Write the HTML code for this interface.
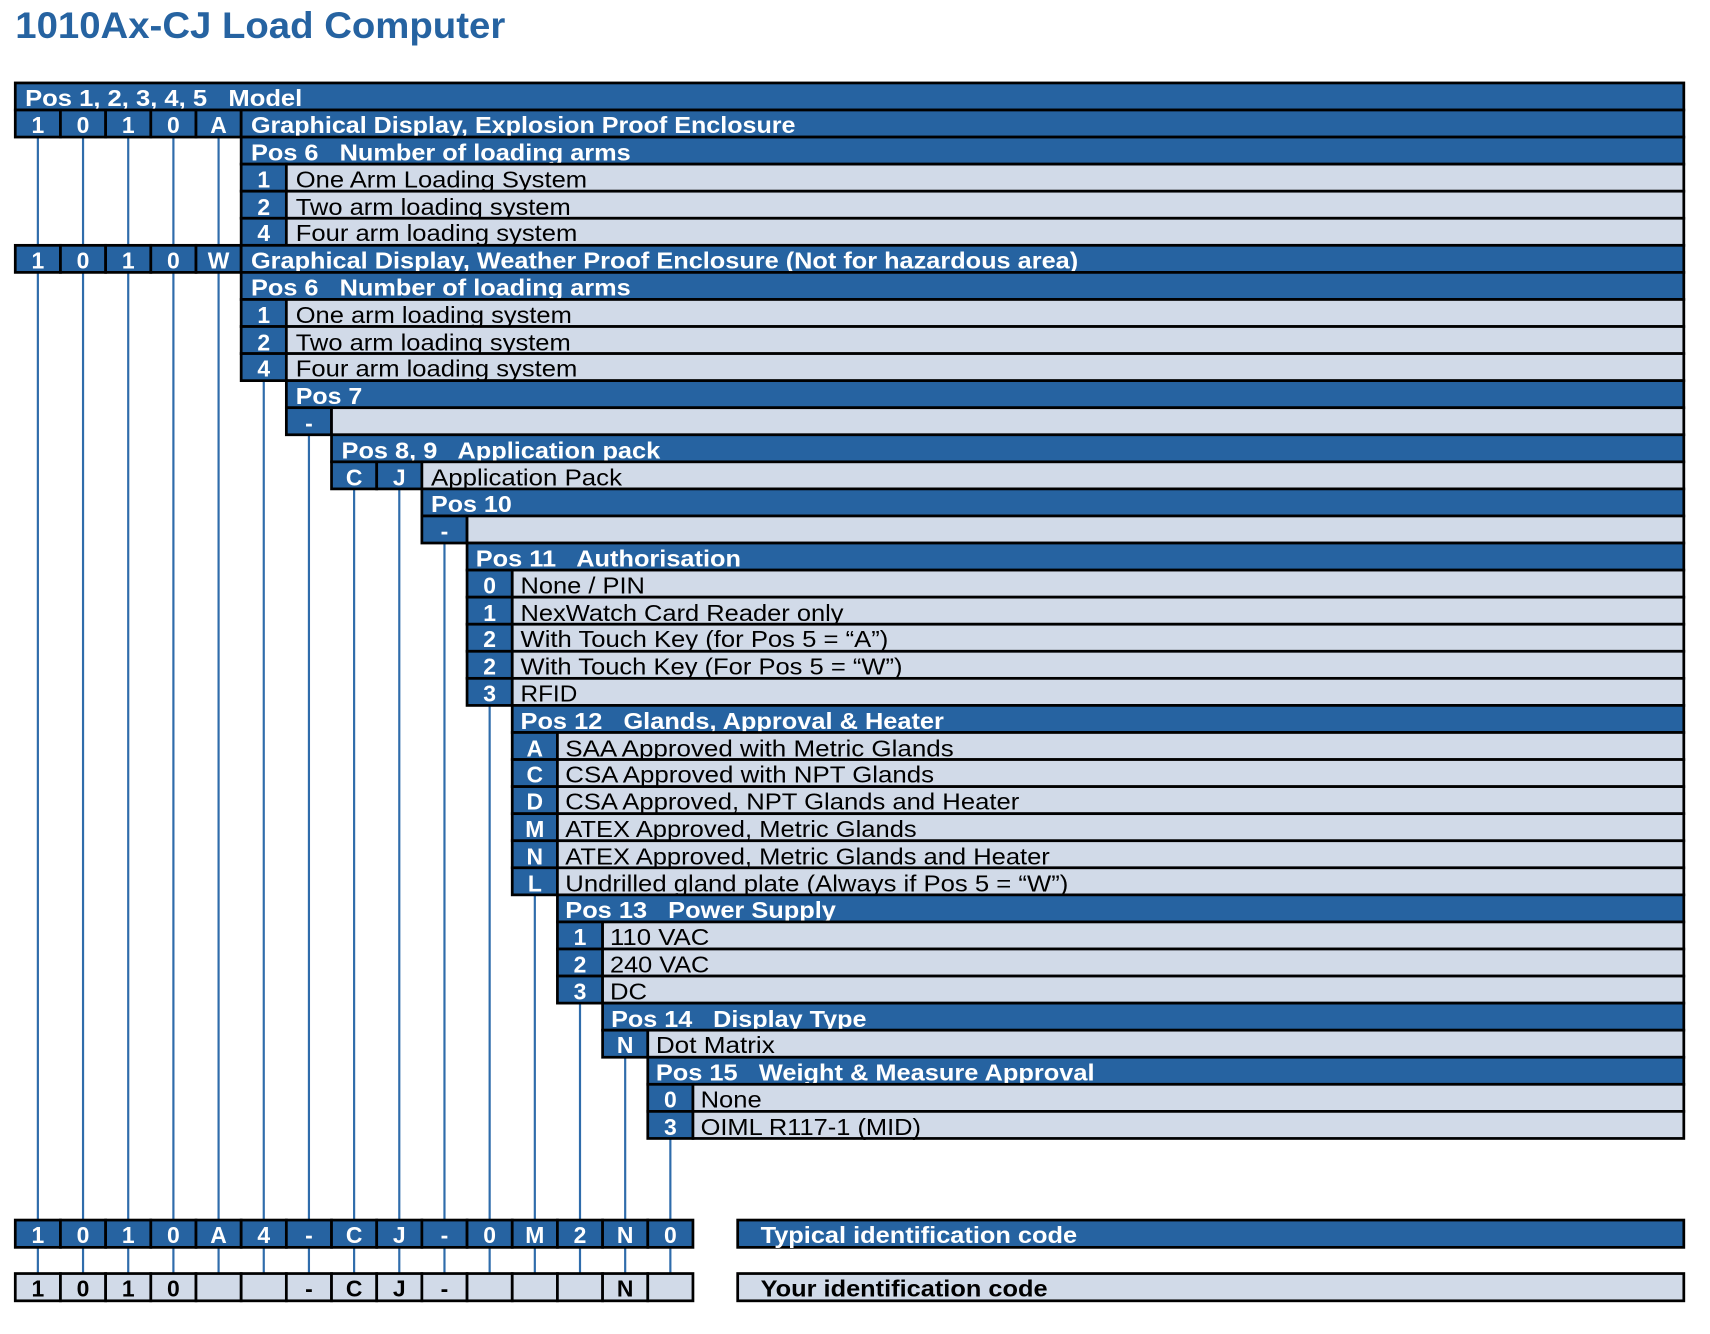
<!DOCTYPE html>
<html><head><meta charset="utf-8"><style>
html,body{margin:0;padding:0;background:#fff;width:1710px;height:1334px;overflow:hidden}
svg text{white-space:pre;font-family:"Liberation Sans",sans-serif}
.h{fill:#fff;font-weight:bold;font-size:21px}
.t{fill:#000;font-size:21px}
.c{fill:#fff;font-weight:bold;font-size:21px;text-anchor:middle}
.cb{fill:#000;font-weight:bold;font-size:21px;text-anchor:middle}
.B{fill:#2663a1;stroke:#000;stroke-width:2.5}
.L{fill:#d1dae8;stroke:#000;stroke-width:2.5}
.v{stroke:#2f6cab;stroke-width:2}
</style></head><body>
<svg width="1710" height="1334" viewBox="0 0 1567 1222.4" preserveAspectRatio="none" xmlns="http://www.w3.org/2000/svg">
<text x="14" y="35" font-size="34" font-weight="bold" fill="#2663a1" textLength="449" lengthAdjust="spacingAndGlyphs" style="font-family:'Liberation Sans',sans-serif">1010Ax-CJ Load Computer</text>
<g class="v">
<line x1="34.7" y1="110" x2="34.7" y2="1180"/>
<line x1="76.1" y1="110" x2="76.1" y2="1180"/>
<line x1="117.5" y1="110" x2="117.5" y2="1180"/>
<line x1="158.9" y1="110" x2="158.9" y2="1180"/>
<line x1="200.3" y1="110" x2="200.3" y2="1180"/>
<line x1="241.7" y1="340" x2="241.7" y2="1180"/>
<line x1="283.1" y1="390" x2="283.1" y2="1180"/>
<line x1="324.5" y1="440" x2="324.5" y2="1180"/>
<line x1="365.9" y1="440" x2="365.9" y2="1180"/>
<line x1="407.3" y1="490" x2="407.3" y2="1180"/>
<line x1="448.7" y1="640" x2="448.7" y2="1180"/>
<line x1="490.1" y1="810" x2="490.1" y2="1180"/>
<line x1="531.5" y1="910" x2="531.5" y2="1180"/>
<line x1="572.9" y1="960" x2="572.9" y2="1180"/>
<line x1="614.3" y1="1030" x2="614.3" y2="1180"/>
</g>

<rect class="B" x="14" y="76" width="1529" height="24.8"/>
<text class="h" x="23" y="97" textLength="254" lengthAdjust="spacingAndGlyphs">Pos 1, 2, 3, 4, 5   Model</text>
<rect class="B" x="14" y="100.8" width="41.4" height="24.8"/><rect class="B" x="55.4" y="100.8" width="41.4" height="24.8"/><rect class="B" x="96.8" y="100.8" width="41.4" height="24.8"/><rect class="B" x="138.2" y="100.8" width="41.4" height="24.8"/><rect class="B" x="179.6" y="100.8" width="41.4" height="24.8"/>
<rect class="B" x="221" y="100.8" width="1322" height="24.8"/>
<text class="c" x="34.7" y="122">1</text><text class="c" x="76.1" y="122">0</text><text class="c" x="117.5" y="122">1</text><text class="c" x="158.9" y="122">0</text><text class="c" x="200.3" y="122">A</text>
<text class="h" x="230" y="122" textLength="499" lengthAdjust="spacingAndGlyphs">Graphical Display, Explosion Proof Enclosure</text>
<rect class="B" x="221" y="125.6" width="1322" height="24.8"/>
<text class="h" x="230" y="147" textLength="348" lengthAdjust="spacingAndGlyphs">Pos 6   Number of loading arms</text>
<rect class="B" x="221" y="150.4" width="41.4" height="24.8"/><rect class="L" x="262.4" y="150.4" width="1280.6" height="24.8"/>
<text class="c" x="241.7" y="172">1</text><text class="t" x="271" y="172" textLength="267" lengthAdjust="spacingAndGlyphs">One Arm Loading System</text>
<rect class="B" x="221" y="175.2" width="41.4" height="24.8"/><rect class="L" x="262.4" y="175.2" width="1280.6" height="24.8"/>
<text class="c" x="241.7" y="197">2</text><text class="t" x="271" y="197" textLength="252" lengthAdjust="spacingAndGlyphs">Two arm loading system</text>
<rect class="B" x="221" y="200" width="41.4" height="24.8"/><rect class="L" x="262.4" y="200" width="1280.6" height="24.8"/>
<text class="c" x="241.7" y="221">4</text><text class="t" x="271" y="221" textLength="258" lengthAdjust="spacingAndGlyphs">Four arm loading system</text>
<rect class="B" x="14" y="224.8" width="41.4" height="24.8"/><rect class="B" x="55.4" y="224.8" width="41.4" height="24.8"/><rect class="B" x="96.8" y="224.8" width="41.4" height="24.8"/><rect class="B" x="138.2" y="224.8" width="41.4" height="24.8"/><rect class="B" x="179.6" y="224.8" width="41.4" height="24.8"/>
<rect class="B" x="221" y="224.8" width="1322" height="24.8"/>
<text class="c" x="34.7" y="246">1</text><text class="c" x="76.1" y="246">0</text><text class="c" x="117.5" y="246">1</text><text class="c" x="158.9" y="246">0</text><text class="c" x="200.3" y="246">W</text>
<text class="h" x="230" y="246" textLength="758" lengthAdjust="spacingAndGlyphs">Graphical Display, Weather Proof Enclosure (Not for hazardous area)</text>
<rect class="B" x="221" y="249.6" width="1322" height="24.8"/>
<text class="h" x="230" y="271" textLength="348" lengthAdjust="spacingAndGlyphs">Pos 6   Number of loading arms</text>
<rect class="B" x="221" y="274.4" width="41.4" height="24.8"/><rect class="L" x="262.4" y="274.4" width="1280.6" height="24.8"/>
<text class="c" x="241.7" y="296">1</text><text class="t" x="271" y="296" textLength="253" lengthAdjust="spacingAndGlyphs">One arm loading system</text>
<rect class="B" x="221" y="299.2" width="41.4" height="24.8"/><rect class="L" x="262.4" y="299.2" width="1280.6" height="24.8"/>
<text class="c" x="241.7" y="321">2</text><text class="t" x="271" y="321" textLength="252" lengthAdjust="spacingAndGlyphs">Two arm loading system</text>
<rect class="B" x="221" y="324" width="41.4" height="24.8"/><rect class="L" x="262.4" y="324" width="1280.6" height="24.8"/>
<text class="c" x="241.7" y="345">4</text><text class="t" x="271" y="345" textLength="258" lengthAdjust="spacingAndGlyphs">Four arm loading system</text>
<rect class="B" x="262.4" y="348.8" width="1280.6" height="24.8"/>
<text class="h" x="271" y="370" textLength="61" lengthAdjust="spacingAndGlyphs">Pos 7</text>
<rect class="B" x="262.4" y="373.6" width="41.4" height="24.8"/><rect class="L" x="303.8" y="373.6" width="1239.2" height="24.8"/>
<text class="c" x="283.1" y="395">-</text>
<rect class="B" x="303.8" y="398.4" width="1239.2" height="24.8"/>
<text class="h" x="313" y="420" textLength="292" lengthAdjust="spacingAndGlyphs">Pos 8, 9   Application pack</text>
<rect class="B" x="303.8" y="423.2" width="41.4" height="24.8"/><rect class="B" x="345.2" y="423.2" width="41.4" height="24.8"/><rect class="L" x="386.6" y="423.2" width="1156.4" height="24.8"/>
<text class="c" x="324.5" y="445">C</text><text class="c" x="365.9" y="445">J</text>
<text class="t" x="395" y="445" textLength="175" lengthAdjust="spacingAndGlyphs">Application Pack</text>
<rect class="B" x="386.6" y="448" width="1156.4" height="24.8"/>
<text class="h" x="395" y="469" textLength="74" lengthAdjust="spacingAndGlyphs">Pos 10</text>
<rect class="B" x="386.6" y="472.8" width="41.4" height="24.8"/><rect class="L" x="428" y="472.8" width="1115" height="24.8"/>
<text class="c" x="407.3" y="494">-</text>
<rect class="B" x="428" y="497.6" width="1115" height="24.8"/>
<text class="h" x="436" y="519" textLength="243" lengthAdjust="spacingAndGlyphs">Pos 11   Authorisation</text>
<rect class="B" x="428" y="522.4" width="41.4" height="24.8"/><rect class="L" x="469.4" y="522.4" width="1073.6" height="24.8"/>
<text class="c" x="448.7" y="544">0</text><text class="t" x="477" y="544" textLength="114" lengthAdjust="spacingAndGlyphs">None / PIN</text>
<rect class="B" x="428" y="547.2" width="41.4" height="24.8"/><rect class="L" x="469.4" y="547.2" width="1073.6" height="24.8"/>
<text class="c" x="448.7" y="569">1</text><text class="t" x="477" y="569" textLength="296" lengthAdjust="spacingAndGlyphs">NexWatch Card Reader only</text>
<rect class="B" x="428" y="572" width="41.4" height="24.8"/><rect class="L" x="469.4" y="572" width="1073.6" height="24.8"/>
<text class="c" x="448.7" y="593">2</text><text class="t" x="477" y="593" textLength="337" lengthAdjust="spacingAndGlyphs">With Touch Key (for Pos 5 = “A”)</text>
<rect class="B" x="428" y="596.8" width="41.4" height="24.8"/><rect class="L" x="469.4" y="596.8" width="1073.6" height="24.8"/>
<text class="c" x="448.7" y="618">2</text><text class="t" x="477" y="618" textLength="350" lengthAdjust="spacingAndGlyphs">With Touch Key (For Pos 5 = “W”)</text>
<rect class="B" x="428" y="621.6" width="41.4" height="24.8"/><rect class="L" x="469.4" y="621.6" width="1073.6" height="24.8"/>
<text class="c" x="448.7" y="643">3</text><text class="t" x="477" y="643" textLength="52" lengthAdjust="spacingAndGlyphs">RFID</text>
<rect class="B" x="469.4" y="646.4" width="1073.6" height="24.8"/>
<text class="h" x="477" y="668" textLength="388" lengthAdjust="spacingAndGlyphs">Pos 12   Glands, Approval &amp; Heater</text>
<rect class="B" x="469.4" y="671.2" width="41.4" height="24.8"/><rect class="L" x="510.8" y="671.2" width="1032.2" height="24.8"/>
<text class="c" x="490.1" y="693">A</text><text class="t" x="518" y="693" textLength="356" lengthAdjust="spacingAndGlyphs">SAA Approved with Metric Glands</text>
<rect class="B" x="469.4" y="696" width="41.4" height="24.8"/><rect class="L" x="510.8" y="696" width="1032.2" height="24.8"/>
<text class="c" x="490.1" y="717">C</text><text class="t" x="518" y="717" textLength="338" lengthAdjust="spacingAndGlyphs">CSA Approved with NPT Glands</text>
<rect class="B" x="469.4" y="720.8" width="41.4" height="24.8"/><rect class="L" x="510.8" y="720.8" width="1032.2" height="24.8"/>
<text class="c" x="490.1" y="742">D</text><text class="t" x="518" y="742" textLength="416" lengthAdjust="spacingAndGlyphs">CSA Approved, NPT Glands and Heater</text>
<rect class="B" x="469.4" y="745.6" width="41.4" height="24.8"/><rect class="L" x="510.8" y="745.6" width="1032.2" height="24.8"/>
<text class="c" x="490.1" y="767">M</text><text class="t" x="518" y="767" textLength="322" lengthAdjust="spacingAndGlyphs">ATEX Approved, Metric Glands</text>
<rect class="B" x="469.4" y="770.4" width="41.4" height="24.8"/><rect class="L" x="510.8" y="770.4" width="1032.2" height="24.8"/>
<text class="c" x="490.1" y="792">N</text><text class="t" x="518" y="792" textLength="444" lengthAdjust="spacingAndGlyphs">ATEX Approved, Metric Glands and Heater</text>
<rect class="B" x="469.4" y="795.2" width="41.4" height="24.8"/><rect class="L" x="510.8" y="795.2" width="1032.2" height="24.8"/>
<text class="c" x="490.1" y="817">L</text><text class="t" x="518" y="817" textLength="461" lengthAdjust="spacingAndGlyphs">Undrilled gland plate (Always if Pos 5 = “W”)</text>
<rect class="B" x="510.8" y="820" width="1032.2" height="24.8"/>
<text class="h" x="518" y="841" textLength="248" lengthAdjust="spacingAndGlyphs">Pos 13   Power Supply</text>
<rect class="B" x="510.8" y="844.8" width="41.4" height="24.8"/><rect class="L" x="552.2" y="844.8" width="990.8" height="24.8"/>
<text class="c" x="531.5" y="866">1</text><text class="t" x="559" y="866" textLength="91" lengthAdjust="spacingAndGlyphs">110 VAC</text>
<rect class="B" x="510.8" y="869.6" width="41.4" height="24.8"/><rect class="L" x="552.2" y="869.6" width="990.8" height="24.8"/>
<text class="c" x="531.5" y="891">2</text><text class="t" x="559" y="891" textLength="91" lengthAdjust="spacingAndGlyphs">240 VAC</text>
<rect class="B" x="510.8" y="894.4" width="41.4" height="24.8"/><rect class="L" x="552.2" y="894.4" width="990.8" height="24.8"/>
<text class="c" x="531.5" y="916">3</text><text class="t" x="559" y="916" textLength="34" lengthAdjust="spacingAndGlyphs">DC</text>
<rect class="B" x="552.2" y="919.2" width="990.8" height="24.8"/>
<text class="h" x="560" y="941" textLength="234" lengthAdjust="spacingAndGlyphs">Pos 14   Display Type</text>
<rect class="B" x="552.2" y="944" width="41.4" height="24.8"/><rect class="L" x="593.6" y="944" width="949.4" height="24.8"/>
<text class="c" x="572.9" y="965">N</text><text class="t" x="601" y="965" textLength="109" lengthAdjust="spacingAndGlyphs">Dot Matrix</text>
<rect class="B" x="593.6" y="968.8" width="949.4" height="24.8"/>
<text class="h" x="601" y="990" textLength="402" lengthAdjust="spacingAndGlyphs">Pos 15   Weight &amp; Measure Approval</text>
<rect class="B" x="593.6" y="993.6" width="41.4" height="24.8"/><rect class="L" x="635" y="993.6" width="908" height="24.8"/>
<text class="c" x="614.3" y="1015">0</text><text class="t" x="642" y="1015" textLength="56" lengthAdjust="spacingAndGlyphs">None</text>
<rect class="B" x="593.6" y="1018.4" width="41.4" height="24.8"/><rect class="L" x="635" y="1018.4" width="908" height="24.8"/>
<text class="c" x="614.3" y="1040">3</text><text class="t" x="642" y="1040" textLength="202" lengthAdjust="spacingAndGlyphs">OIML R117-1 (MID)</text>

<g>
<rect class="B" x="14" y="1118" width="41.4" height="25"/><rect class="B" x="55.4" y="1118" width="41.4" height="25"/><rect class="B" x="96.8" y="1118" width="41.4" height="25"/><rect class="B" x="138.2" y="1118" width="41.4" height="25"/><rect class="B" x="179.6" y="1118" width="41.4" height="25"/><rect class="B" x="221" y="1118" width="41.4" height="25"/><rect class="B" x="262.4" y="1118" width="41.4" height="25"/><rect class="B" x="303.8" y="1118" width="41.4" height="25"/><rect class="B" x="345.2" y="1118" width="41.4" height="25"/><rect class="B" x="386.6" y="1118" width="41.4" height="25"/><rect class="B" x="428" y="1118" width="41.4" height="25"/><rect class="B" x="469.4" y="1118" width="41.4" height="25"/><rect class="B" x="510.8" y="1118" width="41.4" height="25"/><rect class="B" x="552.2" y="1118" width="41.4" height="25"/><rect class="B" x="593.6" y="1118" width="41.4" height="25"/>
<text class="c" x="34.7" y="1139">1</text><text class="c" x="76.1" y="1139">0</text><text class="c" x="117.5" y="1139">1</text><text class="c" x="158.9" y="1139">0</text><text class="c" x="200.3" y="1139">A</text><text class="c" x="241.7" y="1139">4</text><text class="c" x="283.1" y="1139">-</text><text class="c" x="324.5" y="1139">C</text><text class="c" x="365.9" y="1139">J</text><text class="c" x="407.3" y="1139">-</text><text class="c" x="448.7" y="1139">0</text><text class="c" x="490.1" y="1139">M</text><text class="c" x="531.5" y="1139">2</text><text class="c" x="572.9" y="1139">N</text><text class="c" x="614.3" y="1139">0</text>
<rect class="B" x="676" y="1118" width="867" height="25"/>
<text class="h" x="697" y="1139" textLength="290" lengthAdjust="spacingAndGlyphs">Typical identification code</text>
</g>
<g>
<rect class="L" x="14" y="1167" width="41.4" height="25"/><rect class="L" x="55.4" y="1167" width="41.4" height="25"/><rect class="L" x="96.8" y="1167" width="41.4" height="25"/><rect class="L" x="138.2" y="1167" width="41.4" height="25"/><rect class="L" x="179.6" y="1167" width="41.4" height="25"/><rect class="L" x="221" y="1167" width="41.4" height="25"/><rect class="L" x="262.4" y="1167" width="41.4" height="25"/><rect class="L" x="303.8" y="1167" width="41.4" height="25"/><rect class="L" x="345.2" y="1167" width="41.4" height="25"/><rect class="L" x="386.6" y="1167" width="41.4" height="25"/><rect class="L" x="428" y="1167" width="41.4" height="25"/><rect class="L" x="469.4" y="1167" width="41.4" height="25"/><rect class="L" x="510.8" y="1167" width="41.4" height="25"/><rect class="L" x="552.2" y="1167" width="41.4" height="25"/><rect class="L" x="593.6" y="1167" width="41.4" height="25"/>
<text class="cb" x="34.7" y="1188">1</text><text class="cb" x="76.1" y="1188">0</text><text class="cb" x="117.5" y="1188">1</text><text class="cb" x="158.9" y="1188">0</text><text class="cb" x="283.1" y="1188">-</text><text class="cb" x="324.5" y="1188">C</text><text class="cb" x="365.9" y="1188">J</text><text class="cb" x="407.3" y="1188">-</text><text class="cb" x="572.9" y="1188">N</text>
<rect class="L" x="676" y="1167" width="867" height="25"/>
<text class="cb" x="697" y="1188" style="text-anchor:start" textLength="263" lengthAdjust="spacingAndGlyphs">Your identification code</text>
</g>
</svg>
</body></html>
